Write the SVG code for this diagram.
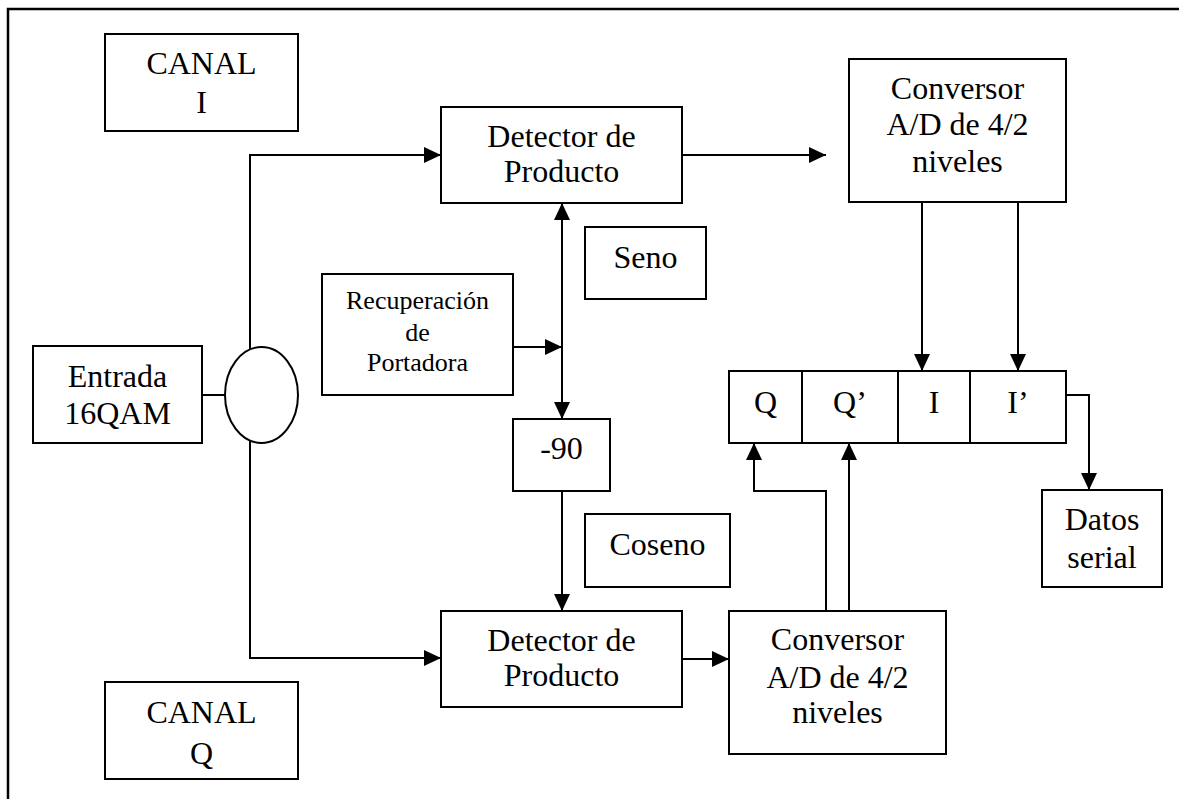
<svg xmlns="http://www.w3.org/2000/svg" width="1179" height="799" viewBox="0 0 1179 799">
  <style>
    .box { fill: #ffffff; stroke: #000000; stroke-width: 2; }
    .wire { fill: none; stroke: #000000; stroke-width: 2; }
    .lbl { font-family: "Liberation Serif", "Times New Roman", serif; font-size: 32px; fill: #000000; text-anchor: middle; }
    .sm { font-size: 26px; }
  </style>
  <defs>
    <marker id="arrow" viewBox="0 0 17 16" refX="17" refY="8" markerWidth="17" markerHeight="16" markerUnits="userSpaceOnUse" orient="auto-start-reverse">
      <path d="M0,0 L17,8 L0,16 z" fill="#000000"/>
    </marker>
  </defs>

  <rect width="1179" height="799" fill="#ffffff"/>

  <!-- page frame (top and left edges) -->
  <path d="M8,799 L8,9 L1179,9" fill="none" stroke="#000000" stroke-width="2.5"/>

  <!-- connectors -->
  <g id="connectors">
    <line class="wire" x1="202" y1="395" x2="225" y2="395"/>
    <path class="wire" d="M250,349.5 L250,155 L441,155" marker-end="url(#arrow)"/>
    <path class="wire" d="M250,440.5 L250,658 L441,658" marker-end="url(#arrow)"/>
    <line class="wire" x1="682" y1="155" x2="826" y2="155" marker-end="url(#arrow)"/>
    <line class="wire" x1="562" y1="203" x2="562" y2="419" marker-start="url(#arrow)" marker-end="url(#arrow)"/>
    <line class="wire" x1="513" y1="347" x2="562" y2="347" marker-end="url(#arrow)"/>
    <line class="wire" x1="562" y1="491" x2="562" y2="611" marker-end="url(#arrow)"/>
    <line class="wire" x1="682" y1="659" x2="729" y2="659" marker-end="url(#arrow)"/>
    <path class="wire" d="M826,611 L826,491 L754,491 L754,443" marker-end="url(#arrow)"/>
    <line class="wire" x1="849" y1="611" x2="849" y2="443" marker-end="url(#arrow)"/>
    <line class="wire" x1="922" y1="202" x2="922" y2="371" marker-end="url(#arrow)"/>
    <line class="wire" x1="1018" y1="202" x2="1018" y2="371" marker-end="url(#arrow)"/>
    <path class="wire" d="M1066,395 L1089,395 L1089,490" marker-end="url(#arrow)"/>
  </g>

  <g id="canal-i">
    <rect class="box" x="105" y="34" width="193" height="97"/>
    <text class="lbl" x="201.5" y="74">CANAL</text>
    <text class="lbl" x="201.5" y="113">I</text>
  </g>

  <g id="canal-q">
    <rect class="box" x="105" y="682" width="193" height="97"/>
    <text class="lbl" x="201.5" y="723">CANAL</text>
    <text class="lbl" x="201.5" y="764">Q</text>
  </g>

  <g id="entrada">
    <rect class="box" x="33" y="346" width="169" height="97"/>
    <text class="lbl" x="117.5" y="387">Entrada</text>
    <text class="lbl" x="117.5" y="424">16QAM</text>
  </g>

  <g id="divisor">
    <ellipse class="box" cx="261.5" cy="395" rx="36.5" ry="48"/>
  </g>

  <g id="detector-i">
    <rect class="box" x="441" y="107" width="241" height="96"/>
    <text class="lbl" x="561.5" y="147">Detector de</text>
    <text class="lbl" x="561.5" y="182">Producto</text>
  </g>

  <g id="detector-q">
    <rect class="box" x="441" y="611" width="241" height="96"/>
    <text class="lbl" x="561.5" y="651">Detector de</text>
    <text class="lbl" x="561.5" y="686">Producto</text>
  </g>

  <g id="recuperacion">
    <rect class="box" x="322" y="274" width="191" height="121"/>
    <text class="lbl sm" x="417.5" y="309">Recuperación</text>
    <text class="lbl sm" x="417.5" y="341">de</text>
    <text class="lbl sm" x="417.5" y="371">Portadora</text>
  </g>

  <g id="seno">
    <rect class="box" x="585" y="227" width="121" height="72"/>
    <text class="lbl" x="645.5" y="268">Seno</text>
  </g>

  <g id="desfase">
    <rect class="box" x="513" y="419" width="97" height="72"/>
    <text class="lbl" x="561.5" y="459">-90</text>
  </g>

  <g id="coseno">
    <rect class="box" x="585" y="514" width="145" height="73"/>
    <text class="lbl" x="657.5" y="555">Coseno</text>
  </g>

  <g id="conversor-i">
    <rect class="box" x="849" y="59" width="217" height="143"/>
    <text class="lbl" x="957.5" y="99">Conversor</text>
    <text class="lbl" x="957.5" y="135">A/D de 4/2</text>
    <text class="lbl" x="957.5" y="172">niveles</text>
  </g>

  <g id="conversor-q">
    <rect class="box" x="729" y="611" width="217" height="143"/>
    <text class="lbl" x="837.5" y="650">Conversor</text>
    <text class="lbl" x="837.5" y="688">A/D de 4/2</text>
    <text class="lbl" x="837.5" y="723">niveles</text>
  </g>

  <g id="registro">
    <rect class="box" x="729" y="371" width="337" height="72"/>
    <line class="wire" x1="802" y1="371" x2="802" y2="443"/>
    <line class="wire" x1="898" y1="371" x2="898" y2="443"/>
    <line class="wire" x1="970" y1="371" x2="970" y2="443"/>
    <text class="lbl" x="765.5" y="413">Q</text>
    <text class="lbl" x="850" y="413">Q’</text>
    <text class="lbl" x="934" y="413">I</text>
    <text class="lbl" x="1018" y="413">I’</text>
  </g>

  <g id="datos">
    <rect class="box" x="1042" y="490" width="120" height="97"/>
    <text class="lbl" x="1102" y="530">Datos</text>
    <text class="lbl" x="1102" y="568">serial</text>
  </g>
</svg>
